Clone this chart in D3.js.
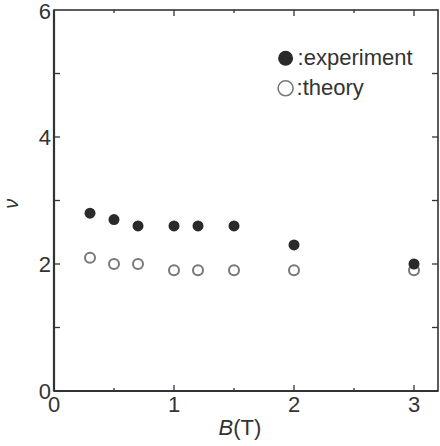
<!DOCTYPE html>
<html>
<head>
<meta charset="utf-8">
<script src="https://cdn.jsdelivr.net/npm/d3@7"></script>
<style>
  body { margin: 0; background: #fff; }
  svg { font-family: "Liberation Sans", Arial, sans-serif; }
</style>
</head>
<body>
<svg id="chart" width="440" height="446"></svg>
<script>
// field values
var fieldB = [0.3, 0.5, 0.7, 1.0, 1.2, 1.5, 2.0, 3.0];
var nuExperiment = [2.8, 2.7, 2.6, 2.6, 2.6, 2.6, 2.3, 2.0];
var nuTheory = [2.1, 2.0, 2.0, 1.9, 1.9, 1.9, 1.9, 1.9];
var xTicks = [0, 1, 2, 3];
var xMinor = [0.5, 1.5, 2.5];
var yTicks = [0, 2, 4, 6];
var yMinor = [1, 3, 5];

var svg = d3.select("#chart"),
    margin = {top: 10, right: 2, bottom: 55, left: 54},
    width = +svg.attr("width") - margin.left - margin.right,
    height = +svg.attr("height") - margin.top - margin.bottom,
    g = svg.append("g").attr("transform", "translate(" + margin.left + "," + margin.top + ")");

var x = d3.scaleLinear().domain([0, 3.2]).range([0, width]);
var y = d3.scaleLinear().domain([0, 6]).range([height, 0]);

var ink = "#333";

// frame
g.append("rect")
    .attr("width", width).attr("height", height)
    .attr("fill", "none").attr("stroke", ink).attr("stroke-width", 1.6);
g.append("line").attr("x1", 0).attr("x2", 0).attr("y1", 0).attr("y2", height)
    .attr("stroke", ink).attr("stroke-width", 2.2);
g.append("line").attr("x1", 0).attr("x2", width).attr("y1", height).attr("y2", height)
    .attr("stroke", ink).attr("stroke-width", 2.2);

// inward ticks on all four sides
function tickSet(vals, len) {
  g.selectAll(null).data(vals).enter().append("line")
      .attr("x1", d => x(d)).attr("x2", d => x(d))
      .attr("y1", height).attr("y2", height - len)
      .attr("stroke", ink).attr("stroke-width", 1.3);
  g.selectAll(null).data(vals).enter().append("line")
      .attr("x1", d => x(d)).attr("x2", d => x(d))
      .attr("y1", 0).attr("y2", len)
      .attr("stroke", ink).attr("stroke-width", 1.3);
}
tickSet(xTicks.slice(1), 6);
tickSet(xMinor, 3);

function yTickSet(vals, len) {
  g.selectAll(null).data(vals).enter().append("line")
      .attr("x1", 0).attr("x2", len)
      .attr("y1", d => y(d)).attr("y2", d => y(d))
      .attr("stroke", ink).attr("stroke-width", 1.3);
  g.selectAll(null).data(vals).enter().append("line")
      .attr("x1", width).attr("x2", width - len)
      .attr("y1", d => y(d)).attr("y2", d => y(d))
      .attr("stroke", ink).attr("stroke-width", 1.3);
}
yTickSet(yTicks.slice(1, 3), 6);
yTickSet(yMinor, 6);

// tick labels
g.selectAll(".xlab").data(xTicks).enter().append("text")
    .attr("x", d => x(d) + (d === 0 ? 0 : 0))
    .attr("y", height + 21)
    .attr("text-anchor", "middle")
    .attr("font-size", 22)
    .attr("fill", ink)
    .text(d => d);

g.selectAll(".ylab").data(yTicks).enter().append("text")
    .attr("x", -3)
    .attr("y", d => y(d) + (d === 6 ? 9 : 8))
    .attr("text-anchor", "end")
    .attr("font-size", 22)
    .attr("fill", ink)
    .text(d => d);

// axis titles
var xt = g.append("text")
    .attr("x", x(1.55)).attr("y", height + 44)
    .attr("text-anchor", "middle")
    .attr("font-size", 22)
    .attr("fill", ink);
xt.append("tspan").attr("font-style", "italic").text("B");
xt.append("tspan").text("(T)");

g.append("text")
    .attr("transform", "translate(" + (-36) + "," + y(2.95) + ") rotate(-90)")
    .attr("text-anchor", "middle")
    .attr("font-size", 20)
    .attr("font-style", "italic")
    .attr("fill", ink)
    .text("ν");

// data points
var expData = fieldB.map((b, i) => ({b: b, v: nuExperiment[i]}));
var thData = fieldB.map((b, i) => ({b: b, v: nuTheory[i]}));

g.selectAll(".th").data(thData).enter().append("circle")
    .attr("cx", d => x(d.b)).attr("cy", d => y(d.v))
    .attr("r", 5)
    .attr("fill", "#fff").attr("stroke", "#777").attr("stroke-width", 2);

g.selectAll(".ex").data(expData).enter().append("circle")
    .attr("cx", d => x(d.b)).attr("cy", d => y(d.v))
    .attr("r", 5.5)
    .attr("fill", "#2a2a2a");

// legend
var leg = g.append("g").attr("transform", "translate(" + (x(1.93)) + "," + (y(5.24)) + ")");
leg.append("circle").attr("cx", 0).attr("cy", 0).attr("r", 7.5).attr("fill", "#2a2a2a");
leg.append("text").attr("x", 12).attr("y", 7).attr("font-size", 22).attr("fill", ink).text(":experiment");
leg.append("circle").attr("cx", 0).attr("cy", 30).attr("r", 7.5)
    .attr("fill", "#fff").attr("stroke", "#777").attr("stroke-width", 1.6);
leg.append("text").attr("x", 11).attr("y", 37).attr("font-size", 22).attr("fill", ink).text(":theory");
</script>
</body>
</html>
